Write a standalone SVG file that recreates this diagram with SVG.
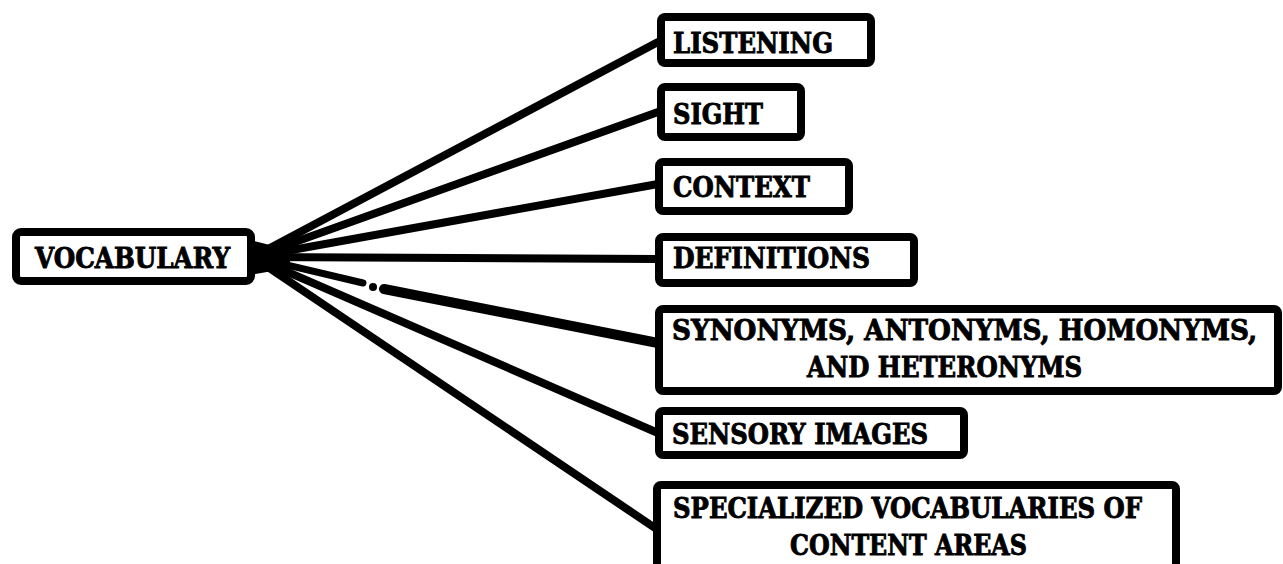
<svg xmlns="http://www.w3.org/2000/svg" width="1283" height="564" viewBox="0 0 1283 564">
  <style>
    .box { fill: #ffffff; stroke: #000000; stroke-width: 8; }
    .lbl { font-family: "DejaVu Serif", "Liberation Serif", serif; font-weight: bold; font-size: 27px; fill: #000000; stroke: #000000; stroke-width: 0.9; }
    .ln { stroke: #000000; stroke-width: 8; stroke-linecap: round; fill: none; }
  </style>
  <rect x="0" y="0" width="1283" height="564" fill="#ffffff"/>
  <g id="connectors">
    <path class="ln" d="M253 257 L658 42"/>
    <path class="ln" d="M253 257 L658 112"/>
    <path class="ln" d="M253 257 L658 184"/>
    <path class="ln" d="M253 257 L658 259"/>
    <path class="ln" d="M253 257 L363 283" style="stroke-width:7"/>
    <circle cx="373" cy="287" r="4" fill="#000000"/>
    <path class="ln" d="M384 289 L658 343" style="stroke-width:10"/>
    <path class="ln" d="M253 257 L658 433"/>
    <path class="ln" d="M253 257 L658 530"/>
    <polygon points="250,240 290,250 290,268 250,275" fill="#000000"/>
  </g>
  <g id="vocabulary">
    <rect class="box" x="16" y="232" width="235" height="49" rx="5"/>
    <text class="lbl" x="35" y="268" textLength="195" lengthAdjust="spacingAndGlyphs">VOCABULARY</text>
  </g>
  <g id="listening">
    <rect class="box" x="661" y="17" width="210" height="46" rx="4"/>
    <text class="lbl" x="673" y="53" textLength="160" lengthAdjust="spacingAndGlyphs">LISTENING</text>
  </g>
  <g id="sight">
    <rect class="box" x="661" y="87" width="140" height="50" rx="4"/>
    <text class="lbl" x="673" y="124" textLength="90" lengthAdjust="spacingAndGlyphs">SIGHT</text>
  </g>
  <g id="context">
    <rect class="box" x="659" y="162" width="190" height="49" rx="4"/>
    <text class="lbl" x="673" y="197" textLength="137" lengthAdjust="spacingAndGlyphs">CONTEXT</text>
  </g>
  <g id="definitions">
    <rect class="box" x="659" y="237" width="255" height="46" rx="4"/>
    <text class="lbl" x="673" y="268" textLength="197" lengthAdjust="spacingAndGlyphs">DEFINITIONS</text>
  </g>
  <g id="synonyms">
    <rect class="box" x="659" y="309" width="619" height="82" rx="4"/>
    <text class="lbl" x="672" y="340" textLength="585" lengthAdjust="spacingAndGlyphs">SYNONYMS, ANTONYMS, HOMONYMS,</text>
    <text class="lbl" x="807" y="377" textLength="275" lengthAdjust="spacingAndGlyphs">AND HETERONYMS</text>
  </g>
  <g id="sensory">
    <rect class="box" x="659" y="411" width="305" height="44" rx="4"/>
    <text class="lbl" x="672" y="444" textLength="256" lengthAdjust="spacingAndGlyphs">SENSORY IMAGES</text>
  </g>
  <g id="specialized">
    <rect class="box" x="657" y="485" width="519" height="100" rx="4"/>
    <text class="lbl" x="673" y="518" textLength="469" lengthAdjust="spacingAndGlyphs">SPECIALIZED VOCABULARIES OF</text>
    <text class="lbl" x="790" y="555" textLength="237" lengthAdjust="spacingAndGlyphs">CONTENT AREAS</text>
  </g>
</svg>
